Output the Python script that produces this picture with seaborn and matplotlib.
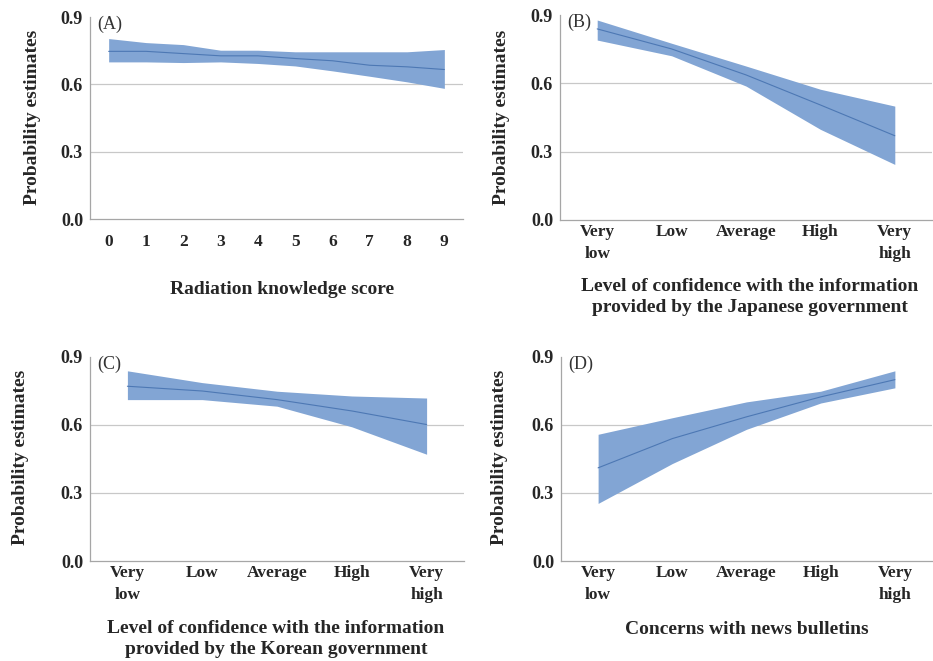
import matplotlib
matplotlib.use("Agg")
import matplotlib.pyplot as plt
import seaborn as sns
import numpy as np
import pandas as pd

sns.set_theme(style="white")
plt.rcParams['font.family'] = ['Liberation Serif', 'DejaVu Serif']

# ---- data ----
knowledge_scores = ['0', '1', '2', '3', '4', '5', '6', '7', '8', '9']
a_mean = [0.747, 0.747, 0.737, 0.727, 0.727, 0.715, 0.705, 0.685, 0.678, 0.666]
a_upper = [0.804, 0.786, 0.777, 0.752, 0.752, 0.745, 0.745, 0.745, 0.745, 0.755]
a_lower = [0.700, 0.700, 0.697, 0.700, 0.693, 0.682, 0.660, 0.636, 0.611, 0.582]

levels = ['Very\nlow', 'Low', 'Average', 'High', 'Very\nhigh']
b_mean = [0.839, 0.751, 0.637, 0.505, 0.370]
b_upper = [0.878, 0.776, 0.676, 0.574, 0.500]
b_lower = [0.790, 0.721, 0.588, 0.398, 0.244]

c_mean = [0.771, 0.750, 0.712, 0.662, 0.602]
c_upper = [0.839, 0.787, 0.749, 0.728, 0.719]
c_lower = [0.712, 0.712, 0.683, 0.592, 0.471]

d_mean = [0.411, 0.540, 0.636, 0.724, 0.800]
d_upper = [0.559, 0.632, 0.702, 0.749, 0.839]
d_lower = [0.254, 0.430, 0.581, 0.697, 0.764]

yticks = [0.0, 0.3, 0.6, 0.9]

band_color = '#82a5d4'
line_color = '#4d78b4'
grey = '#a6a6a6'

panels = [
    dict(tag='(A)', cats=knowledge_scores, mean=a_mean, upper=a_upper, lower=a_lower,
         xlabel='Radiation knowledge score', rect=[90, 17, 463, 219],
         xlab=(0.515, -0.35), ylab=(-0.155, 0.505), pad=11),
    dict(tag='(B)', cats=levels, mean=b_mean, upper=b_upper, lower=b_lower,
         xlabel='Level of confidence with the information\nprovided by the Japanese government',
         rect=[560, 15, 932, 220], xlab=(0.51, -0.375), ylab=(-0.158, 0.5), pad=3),
    dict(tag='(C)', cats=levels, mean=c_mean, upper=c_upper, lower=c_lower,
         xlabel='Level of confidence with the information\nprovided by the Korean government',
         rect=[90, 357, 464, 561], xlab=(0.497, -0.382), ylab=(-0.185, 0.507), pad=3),
    dict(tag='(D)', cats=levels, mean=d_mean, upper=d_upper, lower=d_lower,
         xlabel='Concerns with news bulletins',
         rect=[561, 357, 932, 561], xlab=(0.5, -0.338), ylab=(-0.167, 0.507), pad=3),
]

W, H = 933, 661
fig = plt.figure(figsize=(W / 100, H / 100), dpi=100)

for p in panels:
    x0, y0, x1, y1 = p['rect']
    ax = fig.add_axes([x0 / W, 1 - y1 / H, (x1 - x0) / W, (y1 - y0) / H])
    n = len(p['cats'])
    df = pd.DataFrame({'pos': np.arange(n), 'mean': p['mean'],
                       'upper': p['upper'], 'lower': p['lower']})
    ax.fill_between(df['pos'], df['lower'], df['upper'], color=band_color,
                    linewidth=0, zorder=2)
    sns.lineplot(data=df, x='pos', y='mean', ax=ax, color=line_color,
                 linewidth=0.8, zorder=3)

    ax.set_xlim(-0.5, n - 0.5)
    ax.set_ylim(0, 0.9)
    ax.set_yticks(yticks)
    ax.set_yticklabels([f'{v:.1f}' for v in yticks], fontsize=13, fontweight='bold')
    for v in [0.3, 0.6]:
        ax.axhline(v, color='#c8c8c8', linewidth=0.9, zorder=1)

    ax.set_xticks(np.arange(n))
    ax.set_xticklabels(p['cats'], fontsize=12.5, fontweight='bold', linespacing=1.45)
    ax.set_xticks(np.arange(-0.5, n), minor=True)
    ax.tick_params(axis='x', which='major', length=0, pad=p['pad'])
    ax.tick_params(axis='x', which='minor', length=3, color=grey, width=0.8, direction='out')
    ax.tick_params(axis='y', length=3, color=grey, width=0.8, pad=2)

    for s in ['top', 'right']:
        ax.spines[s].set_visible(False)
    for s in ['left', 'bottom']:
        ax.spines[s].set_color(grey)
        ax.spines[s].set_linewidth(0.9)

    ax.set_xlabel(p['xlabel'], fontsize=14, fontweight='bold', linespacing=1.35)
    ax.xaxis.label.set_va('center')
    ax.xaxis.set_label_coords(*p['xlab'])
    ax.set_ylabel('Probability estimates', fontsize=14, fontweight='bold')
    ax.yaxis.label.set_va('center')
    ax.yaxis.set_label_coords(*p['ylab'])

    ax.text(0.02, 0.965, p['tag'], transform=ax.transAxes, fontsize=13,
            ha='left', va='center', color='#333333')

fig.savefig('out.png', dpi=100)
